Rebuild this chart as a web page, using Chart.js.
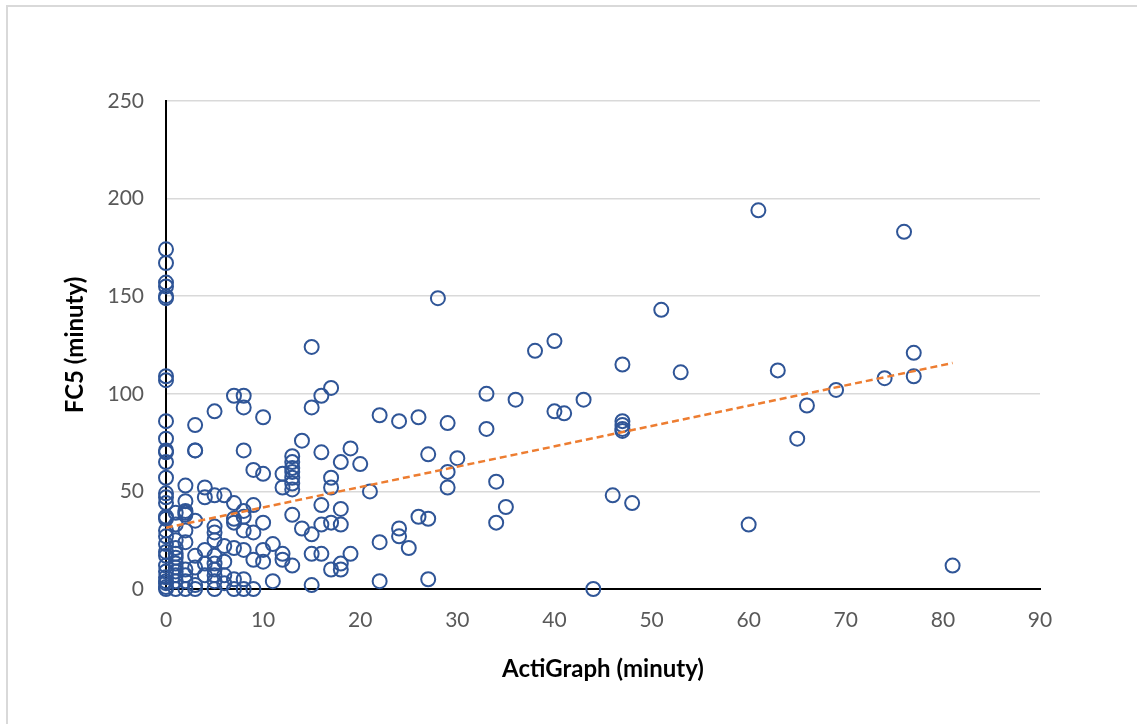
<!DOCTYPE html>
<html>
<head>
<meta charset="utf-8">
<script src="https://cdn.jsdelivr.net/npm/chart.js@4/dist/chart.umd.min.js"></script>
<style>
  html, body { margin: 0; padding: 0; background: #fff; overflow: hidden; }
  #frame { position: absolute; left: 6px; top: 5px; width: 1140px; height: 730px; border: 2px solid #d9d9d9; }
  #wrap { position: absolute; left: 0; top: 0; width: 1137px; height: 724px; }
</style>
</head>
<body>
<div id="frame"></div>
<div id="wrap"><canvas id="scatterChart"></canvas></div>
<script>
// ActiGraph minutes (x) and FC5 minutes (y), grouped by x
const agX = [
  0,0,0,0,0,0,0,0,0,0,0,0,0,0,0,0,0,0,0,0,0,0,0,0,0,0,0,0,0,0,0,
  1,1,1,1,1,1,1,1,1,1,1,1,
  2,2,2,2,2,2,2,2,2,2,2,
  3,3,3,3,3,3,3,3,
  4,4,4,4,4,
  5,5,5,5,5,5,5,5,5,5,5,
  6,6,6,6,6,
  7,7,7,7,7,7,7,
  8,8,8,8,8,8,8,8,8,
  9,9,9,9,9,
  10,10,10,10,10,
  11,11,
  12,12,12,12,
  13,13,13,13,13,13,13,13,13,
  14,14,
  15,15,15,15,15,
  16,16,16,16,16,
  17,17,17,17,17,
  18,18,18,18,18,
  19,19, 20, 21,
  22,22,22,
  24,24,24, 25,
  26,26, 27,27,27, 28,
  29,29,29, 30,
  33,33, 34,34, 35, 36, 38,
  40,40, 41, 43, 44, 46,
  47,47,47,47,47, 48, 51, 53,
  60, 61, 63, 65, 66, 69, 74, 76, 77,77, 81
];
const fc5Y = [
  174,167,157,155,150,149,109,107,86,77,71,70,65,57,49,47,44,37,36,30,27,23,19,17,12,9,6,4,3,1,0,
  39,33,25,21,18,16,13,11,9,7,4,0,
  53,45,40,39,38,30,24,10,7,4,0,
  84,71,71,35,17,11,2,0,
  52,47,20,13,7,
  91,48,32,29,25,17,13,10,7,4,0,
  48,22,14,7,3,
  99,44,36,34,21,5,0,
  99,93,71,40,37,30,20,5,0,
  61,43,29,15,0,
  88,59,34,20,14,
  23,4,
  59,52,18,15,
  68,65,62,60,57,54,51,38,12,
  76,31,
  124,93,28,18,2,
  99,70,43,33,18,
  103,57,52,34,10,
  65,41,33,13,10,
  72,18, 64, 50,
  89,24,4,
  86,31,27, 21,
  88,37, 69,36,5, 149,
  85,60,52, 67,
  100,82, 55,34, 42, 97, 122,
  127,91, 90, 97, 0, 48,
  115,86,84,82,81, 44, 143, 111,
  33, 194, 112, 77, 94, 102, 108, 183, 121,109, 12
];
// linear trendline ends as drawn in the picture
const trendX = [0, 81];
const trendY = [31.4, 115.8];

const xTicks = [0, 10, 20, 30, 40, 50, 60, 70, 80, 90];
const yTicks = [0, 50, 100, 150, 200, 250];

const points = agX.map((x, i) => ({ x: x, y: fc5Y[i] }));
const trend = trendX.map((x, i) => ({ x: x, y: trendY[i] }));

const tickFont = { family: "Lato", size: 21 };
const titleFont = { family: "Lato", size: 24, weight: "bold" };

const ctx = document.getElementById("scatterChart").getContext("2d");
new Chart(ctx, {
    type: "scatter",
    data: {
        datasets: [
            {
                label: "FC5",
                data: points,
                pointStyle: "circle",
                pointRadius: 7,
                pointBorderWidth: 2,
                pointBorderColor: "#2f5597",
                pointBackgroundColor: "rgba(0,0,0,0)",
                clip: false,
                order: 1,
            },
            {
                type: "line",
                label: "Trend",
                data: trend,
                borderColor: "#ed7d31",
                borderWidth: 2.5,
                borderDash: [7, 4],
                pointRadius: 0,
                fill: false,
                order: 0,
            },
        ],
    },
    options: {
        responsive: true,
        maintainAspectRatio: false,
        animation: false,
        layout: { padding: { top: 101, right: 97, left: 0, bottom: 0 } },
        plugins: {
            legend: { display: false },
            tooltip: { enabled: false },
        },
        scales: {
            x: {
                type: "linear",
                min: 0,
                max: 90,
                afterFit: (scale) => { scale.height = 135; },
                afterBuildTicks: (scale) => { scale.ticks = xTicks.map((v) => ({ value: v })); },
                grid: { display: false, drawTicks: false },
                border: { color: "#000", width: 2 },
                ticks: { color: "#595959", font: tickFont, padding: 19, maxRotation: 0 },
                title: {
                    display: true,
                    text: "ActiGraph (minuty)",
                    color: "#000",
                    font: titleFont,
                    padding: { top: 0, bottom: 40 },
                },
            },
            y: {
                min: 0,
                max: 250,
                afterFit: (scale) => { scale.width = 166; },
                afterBuildTicks: (scale) => { scale.ticks = yTicks.map((v) => ({ value: v })); },
                grid: { color: "#d9d9d9", lineWidth: 1.5, drawTicks: false },
                border: { color: "#000", width: 2 },
                ticks: { color: "#595959", font: tickFont, padding: 22 },
                title: {
                    display: true,
                    text: "FC5 (minuty)",
                    color: "#000",
                    font: titleFont,
                    padding: { top: 61, bottom: 0 },
                },
            },
        },
    },
});
</script>
</body>
</html>
